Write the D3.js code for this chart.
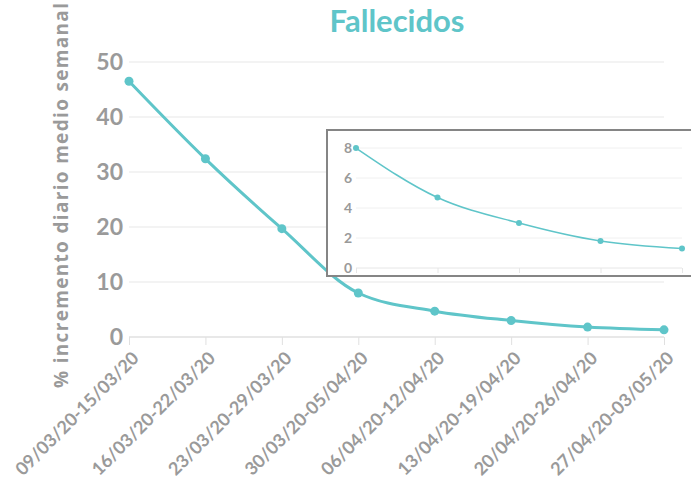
<!DOCTYPE html>
<html>
<head>
<meta charset="utf-8">
<script src="https://cdn.jsdelivr.net/npm/d3@7"></script>
<style>
  body { margin: 0; background: #fff; }
  svg { display: block; }
</style>
</head>
<body>
<svg id="chart" width="691" height="481"></svg>
<script>
// weekly periods
var weeks = ['09/03/20-15/03/20', '16/03/20-22/03/20', '23/03/20-29/03/20', '30/03/20-05/04/20',
  '06/04/20-12/04/20', '13/04/20-19/04/20', '20/04/20-26/04/20', '27/04/20-03/05/20'];
var deaths = [46.5, 32.4, 19.7, 8.0, 4.7, 3.0, 1.8, 1.3];
var yTicks = [0, 10, 20, 30, 40, 50];
var insetTicks = [0, 2, 4, 6, 8];
var insetStart = 3; // inset zooms on the last five weeks

var teal = '#5fc5c9';
var grey = '#9a9a9a';

var svg = d3.select('#chart');

var x = d3.scalePoint().domain(weeks).range([129, 664]);
var y = d3.scaleLinear().domain([0, 50]).range([337, 62]);

// title
svg.append('text')
  .attr('x', 397).attr('y', 32)
  .attr('text-anchor', 'middle')
  .style('font-family', 'Lato, sans-serif')
  .style('font-weight', 'bold')
  .style('font-size', '31px')
  .style('fill', teal)
  .text('Fallecidos');

// y axis title
svg.append('text')
  .attr('transform', 'translate(68,388) rotate(-90)')
  .attr('text-anchor', 'start')
  .attr('textLength', 385)
  .attr('lengthAdjust', 'spacing')
  .style('font-family', '"Open Sans", sans-serif')
  .style('font-weight', 'bold')
  .style('font-size', '19px')
  .style('fill', grey)
  .text('% incremento diario medio semanal');

// gridlines
svg.append('g')
  .selectAll('line')
  .data(yTicks)
  .enter().append('line')
  .attr('x1', 129).attr('x2', 664)
  .attr('y1', d => y(d)).attr('y2', d => y(d))
  .style('stroke', d => d == 0 ? '#e0e0e0' : '#efefef')
  .style('stroke-width', 1.5);

// y labels
var yAxis = svg.append('g')
  .attr('transform', 'translate(123,0)')
  .call(d3.axisLeft(y).tickValues(yTicks).tickSize(0).tickPadding(0));
yAxis.select('.domain').remove();
yAxis.selectAll('text')
  .style('font-family', 'Lato, sans-serif')
  .style('font-weight', 'bold')
  .style('font-size', '23px')
  .style('fill', grey);

// x axis
var xAxis = svg.append('g')
  .attr('transform', 'translate(0,337)')
  .call(d3.axisBottom(x).tickSize(8).tickPadding(4));
xAxis.select('.domain').remove();
xAxis.selectAll('line').style('stroke', '#e0e0e0');
xAxis.selectAll('text')
  .attr('text-anchor', 'end')
  .attr('x', 0).attr('y', 0)
  .attr('dy', '0.35em')
  .attr('transform', 'translate(6,18) rotate(-45)')
  .style('font-family', 'Lato, sans-serif')
  .style('font-weight', 'bold')
  .style('font-size', '18px')
  .style('fill', grey);

// main line
var line = d3.line()
  .x((d, i) => x(weeks[i]))
  .y(d => y(d))
  .curve(d3.curveMonotoneX);

svg.append('path')
  .datum(deaths)
  .attr('d', line)
  .style('fill', 'none')
  .style('stroke', teal)
  .style('stroke-width', 3);

svg.append('g')
  .selectAll('circle')
  .data(deaths)
  .enter().append('circle')
  .attr('cx', (d, i) => x(weeks[i]))
  .attr('cy', d => y(d))
  .attr('r', 4.5)
  .style('fill', teal);

// inset
var insetWeeks = weeks.slice(insetStart);
var insetData = deaths.slice(insetStart);
var ix = d3.scalePoint().domain(insetWeeks).range([356, 682]);
var iy = d3.scaleLinear().domain([0, 8]).range([268, 148]);

var inset = svg.append('g');
inset.append('rect')
  .attr('x', 327).attr('y', 130)
  .attr('width', 380).attr('height', 146)
  .style('fill', '#fff')
  .style('stroke', '#858585')
  .style('stroke-width', 2);

inset.append('g')
  .selectAll('line')
  .data(insetTicks)
  .enter().append('line')
  .attr('x1', 356).attr('x2', 682)
  .attr('y1', d => iy(d)).attr('y2', d => iy(d))
  .style('stroke', d => d == 0 ? '#e6e6e6' : '#f0f0f0')
  .style('stroke-width', 1);

var iyAxis = inset.append('g')
  .attr('transform', 'translate(352,0)')
  .call(d3.axisLeft(iy).tickValues(insetTicks).tickSize(0).tickPadding(0));
iyAxis.select('.domain').remove();
iyAxis.selectAll('text')
  .style('font-family', 'Lato, sans-serif')
  .style('font-weight', 'bold')
  .style('font-size', '14px')
  .style('fill', grey);

var ixAxis = inset.append('g')
  .attr('transform', 'translate(0,268)')
  .call(d3.axisBottom(ix).tickSize(5).tickFormat(''));
ixAxis.select('.domain').remove();
ixAxis.selectAll('line').style('stroke', '#e6e6e6');

var insetLine = d3.line()
  .x((d, i) => ix(insetWeeks[i]))
  .y(d => iy(d))
  .curve(d3.curveMonotoneX);

inset.append('path')
  .datum(insetData)
  .attr('d', insetLine)
  .style('fill', 'none')
  .style('stroke', teal)
  .style('stroke-width', 1.5);

inset.append('g')
  .selectAll('circle')
  .data(insetData)
  .enter().append('circle')
  .attr('cx', (d, i) => ix(insetWeeks[i]))
  .attr('cy', d => iy(d))
  .attr('r', 3)
  .style('fill', teal);
</script>
</body>
</html>
